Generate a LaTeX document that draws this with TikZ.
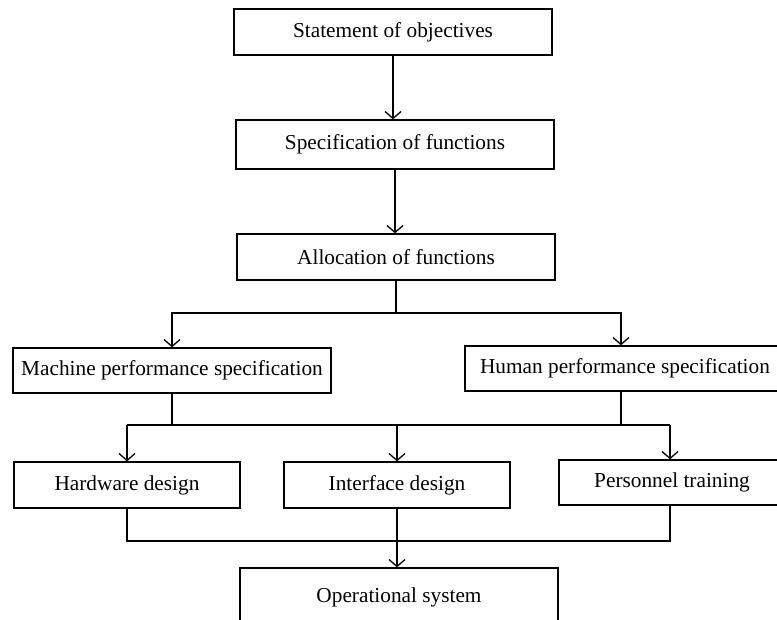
\documentclass[tikz,border=0pt]{standalone}
\usepackage{fontspec}
\setmainfont{Liberation Serif}
\usetikzlibrary{arrows.meta}
\begin{document}
\begin{tikzpicture}[x=1pt,y=-1pt,
  box/.style={draw, line width=1.3pt, inner sep=0pt, font=\fontsize{21.3}{25}\selectfont},
  conn/.style={line width=1.3pt},
  arr/.style={line width=1.3pt, -{Straight Barb[length=7pt,width=16pt,line width=1.3pt]}}]
\useasboundingbox (0,0) rectangle (777,619);
\clip (0,0) rectangle (777,619);
\node[box, minimum width=318pt, minimum height=46pt] (b1) at (393,32) {Statement of objectives};
\node[box, minimum width=318pt, minimum height=49pt] (b2) at (395,144.5) {Specification of functions};
\node[box, minimum width=318pt, minimum height=46pt] (b3) at (396,257) {Allocation of functions};
\node[box, minimum width=318pt, minimum height=45pt] (mach) at (172,370.5) {Machine performance specification};
\node[box, minimum width=320pt, minimum height=45pt] (hum) at (625,368.5) {Human performance specification};
\node[box, minimum width=226pt, minimum height=46pt] (hw) at (127,485) {Hardware design};
\node[box, minimum width=226pt, minimum height=46pt] (ifc) at (397,485) {Interface design};
\node[box, minimum width=226pt, minimum height=45pt] (pers) at (672,482.5) {Personnel training};
\node[box, minimum width=318pt, minimum height=62pt] (ops) at (399,599) {};
\node[font=\fontsize{21.3}{25}\selectfont] (opst) at (399,597) {Operational system};
\coordinate (s1) at (396,313);
\coordinate (s1l) at (172,313);
\coordinate (s1r) at (621,313);
\coordinate (s2l) at (127,425);
\coordinate (s2r) at (670,425);
\coordinate (s3l) at (127,541);
\coordinate (s3r) at (670,541);
\draw[arr] (b1.south) -- (b1.south |- b2.north);
\draw[arr] (b2.south) -- (b2.south |- b3.north);
\draw[conn] (b3.south) -- (s1);
\draw[arr] (s1) -- (s1l) -- (s1l |- mach.north);
\draw[arr] (s1) -- (s1r) -- (s1r |- hum.north);
\draw[conn] (mach.south) -- (mach.south |- s2l);
\draw[conn] (s1r |- hum.south) -- (s1r |- s2r);
\draw[arr] (s2l) -- (hw.north);
\draw[arr] (s2r) -- (s2r |- pers.north);
\draw[conn] (s2l) -- (s2r);
\draw[arr] (ifc.north |- s2l) -- (ifc.north);
\draw[conn] (hw.south) -- (s3l) -- (s3r) -- (s3r |- pers.south);
\draw[arr] (ifc.south) -- (ifc.south |- ops.north);
\end{tikzpicture}
\end{document}
